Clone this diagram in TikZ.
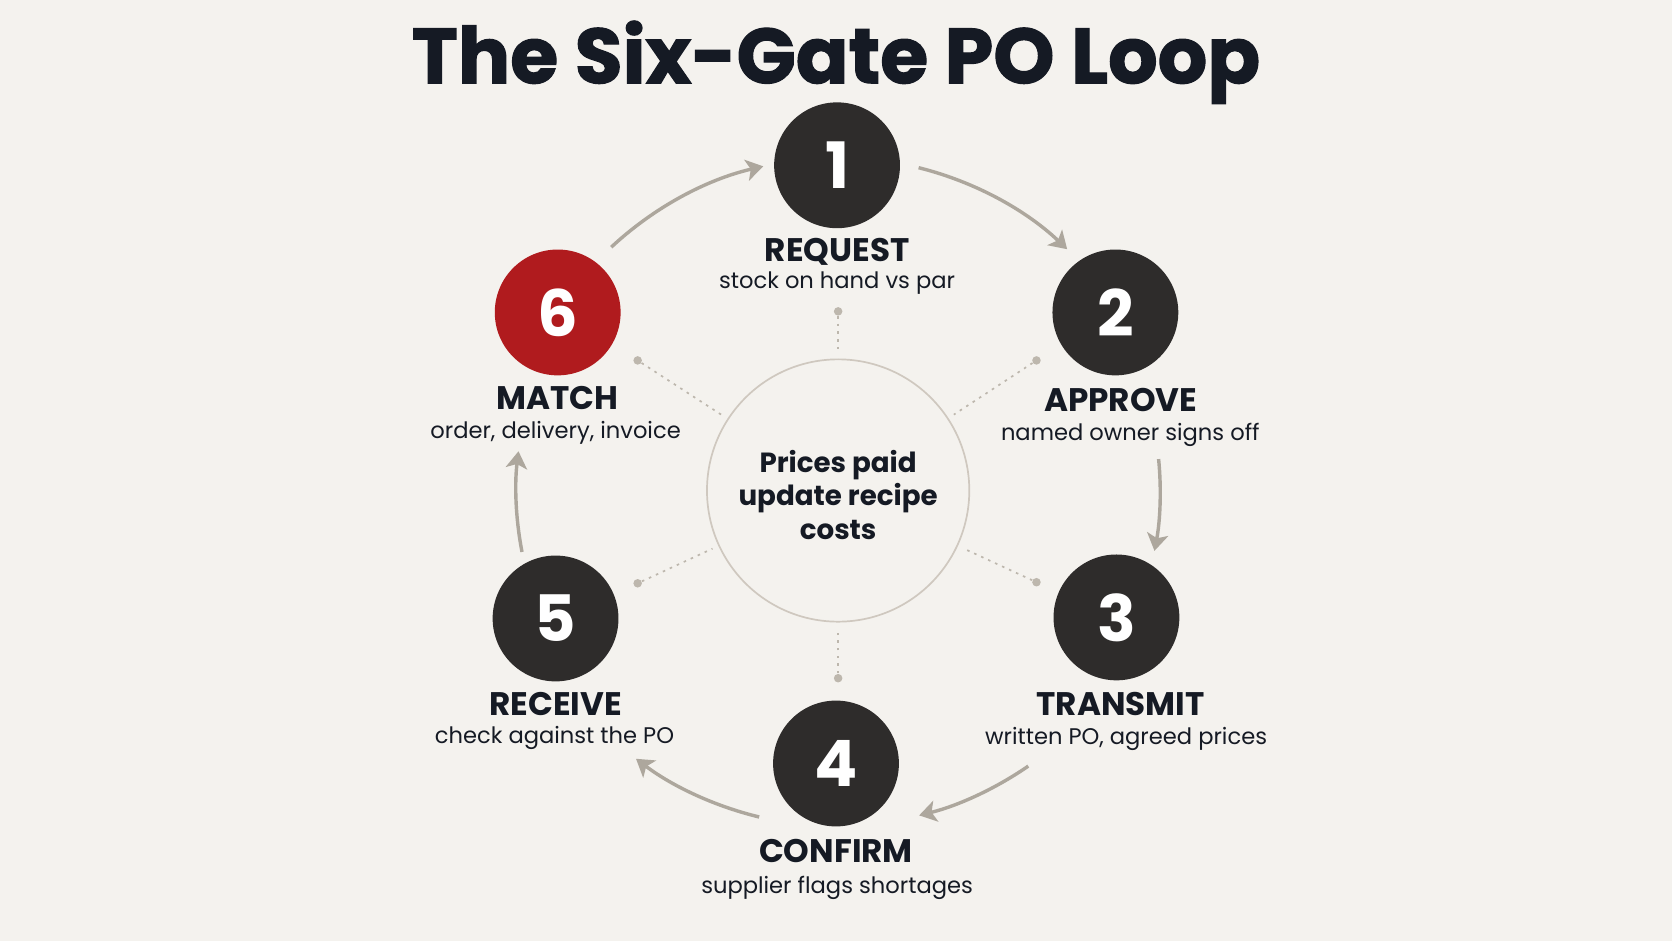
\documentclass[tikz,border=0pt]{standalone}
\usepackage{fontspec}
\setmainfont{Poppins}
\newfontfamily\titlefont[FakeBold=1.5]{Poppins Bold}
\usetikzlibrary{arrows.meta}
\definecolor{bg}{HTML}{F4F2EE}
\definecolor{ink}{HTML}{151A24}
\definecolor{dark}{HTML}{2E2C2B}
\definecolor{redn}{HTML}{B01B1E}
\definecolor{arrowc}{HTML}{ADA79D}
\definecolor{ringc}{HTML}{CFC8BF}
\definecolor{dotc}{HTML}{BDB7AD}
\tikzset{
  gate/.style={circle, fill=dark, minimum size=59pt, inner sep=0pt, text=white, font=\fontsize{30}{30}\selectfont\bfseries},
  gatered/.style={gate, fill=redn},
  head/.style={anchor=base, text=ink, font=\fontsize{15.3}{15}\selectfont\bfseries, inner sep=0pt},
  sub/.style={anchor=base, text=ink, font=\fontsize{10.6}{12}\selectfont, inner sep=0pt},
  arr/.style={draw=arrowc, line width=1.6pt, -{Stealth[length=8pt,width=10pt,inset=2pt]}},
  dotn/.style={circle, fill=dotc, minimum size=4pt, inner sep=0pt},
  dotline/.style={draw=dotc, line width=0.8pt, dash pattern=on 1.2pt off 2.4pt, shorten >=3pt},
  ring/.style={circle, draw=ringc, line width=0.8pt, minimum size=123pt, inner sep=0pt},
  ringtext/.style={align=center, text=ink, inner sep=0pt, font=\fontsize{13}{15.8}\selectfont\bfseries}
}
\begin{document}
\begin{tikzpicture}[x=0.5pt,y=-0.5pt]
\fill[bg] (0,0) rectangle (1568,882);
\useasboundingbox (0,0) rectangle (1568,882);
% title
\node[anchor=base, inner sep=0pt, text=ink, font=\titlefont\fontsize{36.5}{40}\selectfont] (title) at (784,78) {The Six-Gate PO Loop};
% center
\node[ring] (cc) at (786,460) {};
\node[ringtext] (ct) at (786,464) {Prices paid\\update recipe\\costs};
% gates
\node[gate] (n1) at (785,155) {1};
\node[gate] (n2) at (1046,293) {2};
\node[gate] (n3) at (1047,579) {3};
\node[gate] (n4) at (784,716) {4};
\node[gate] (n5) at (521,580) {5};
\node[gatered] (n6) at (523,293) {6};
% labels
\node[head] (h1) at (785,245) {REQUEST};
\node[sub] (s1) at (785,271) {stock on hand vs par};
\node[head] (h2) at (1051,386) {APPROVE};
\node[sub] (s2) at (1060,413) {named owner signs off};
\node[head] (h3) at (1051,671) {TRANSMIT};
\node[sub] (s3) at (1056,698) {written PO, agreed prices};
\node[head] (h4) at (784,809) {CONFIRM};
\node[sub] (s4) at (785,838) {supplier flags shortages};
\node[head] (h5) at (521,671) {RECEIVE};
\node[sub] (s5) at (520,697) {check against the PO};
\node[head] (h6) at (523,384) {MATCH};
\node[sub] (s6) at (521,411) {order, delivery, invoice};
% dots and spokes
\node[dotn] (d1) at (786,292) {};
\node[dotn] (d2) at (972,338) {};
\node[dotn] (d3) at (972,546) {};
\node[dotn] (d4) at (786,636) {};
\node[dotn] (d5) at (598,547) {};
\node[dotn] (d6) at (598,338) {};
\foreach \d in {d1,d2,d3,d4,d5,d6}{\draw[dotline] (\d) -- (cc);}
% arc connectors
\coordinate (a61) at ([shift={(786,460)}]133:156pt);
\coordinate (a12) at ([shift={(786,460)}]76:156pt);
\coordinate (a23) at ([shift={(786,460)}]5.6:151pt);
\coordinate (a34) at ([shift={(786,460)}]-55.4:157pt);
\coordinate (a45) at ([shift={(786,460)}]-103.6:157.5pt);
\coordinate (a56) at ([shift={(786,460)}]191:151pt);
\draw[arr] (a61) arc[start angle=133, end angle=103, radius=156pt];
\draw[arr] (a12) arc[start angle=76, end angle=46.5, radius=156pt];
\draw[arr] (a23) arc[start angle=5.6, end angle=-10.8, radius=151pt];
\draw[arr] (a34) arc[start angle=-55.4, end angle=-76, radius=157pt];
\draw[arr] (a45) arc[start angle=-103.6, end angle=-127, radius=157.5pt];
\draw[arr] (a56) arc[start angle=191, end angle=173, radius=151pt];
\end{tikzpicture}
\end{document}
